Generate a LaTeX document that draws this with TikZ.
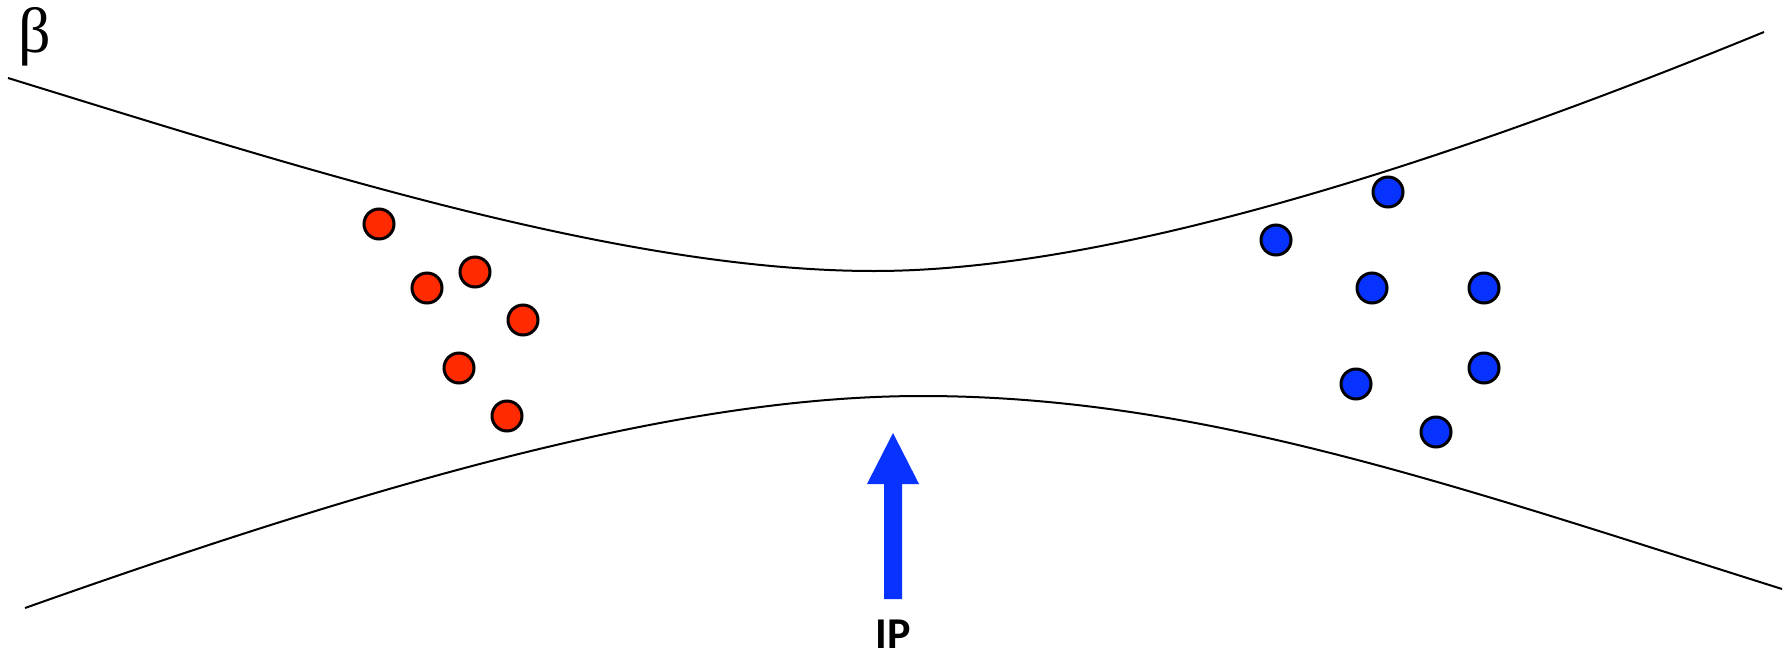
\documentclass[tikz,border=0pt]{standalone}
\usepackage{fontspec}
\setmainfont{Liberation Serif}
\newfontfamily\ipfont{Carlito}
\definecolor{dotred}{RGB}{255,42,0}
\definecolor{dotblue}{RGB}{8,50,255}
\tikzset{
  beam/.style={draw=black, line width=2pt},
  reddot/.style={circle, draw=black, line width=3pt, fill=dotred, minimum size=30pt, inner sep=0pt},
  bluedot/.style={circle, draw=black, line width=3pt, fill=dotblue, minimum size=30pt, inner sep=0pt},
}
\begin{document}
\begin{tikzpicture}[x=1pt, y=-1pt]
\useasboundingbox (0,0) rectangle (1784,656);
% envelope curves
\coordinate (uL) at (8,78);
\coordinate (uM) at (874,271);
\coordinate (uR) at (1764,32);
\coordinate (lL) at (25,608);
\coordinate (lM) at (922,396);
\coordinate (lR) at (1782,589);
\draw[beam] (uL) .. controls (300,168) and (620,271) .. (uM)
            .. controls (1120,271) and (1464,155) .. (uR);
\draw[beam] (lL) .. controls (425,466) and (700,396) .. (lM)
            .. controls (1200,396) and (1452,485) .. (lR);
% beta label
\node[anchor=base west, inner sep=0pt, font=\fontsize{64}{64}\selectfont] (beta) at (18,52) {β};
% red bunch
\node[reddot] (r1) at (379,224) {};
\node[reddot] (r2) at (427,288) {};
\node[reddot] (r3) at (475,272) {};
\node[reddot] (r4) at (523,320) {};
\node[reddot] (r5) at (459,368) {};
\node[reddot] (r6) at (507,416) {};
% blue bunch
\node[bluedot] (b1) at (1388,192) {};
\node[bluedot] (b2) at (1276,240) {};
\node[bluedot] (b3) at (1372,288) {};
\node[bluedot] (b4) at (1484,288) {};
\node[bluedot] (b5) at (1356,384) {};
\node[bluedot] (b6) at (1484,368) {};
\node[bluedot] (b7) at (1436,432) {};
% IP arrow
\fill[dotblue] (884,599) -- (884,484) -- (867,484) -- (893,433) -- (919,484) -- (902,484) -- (902,599) -- cycle;
\node[font=\ipfont\bfseries\fontsize{44}{44}\selectfont, inner sep=0pt] (ip) at (893,634) {IP};
\end{tikzpicture}
\end{document}
